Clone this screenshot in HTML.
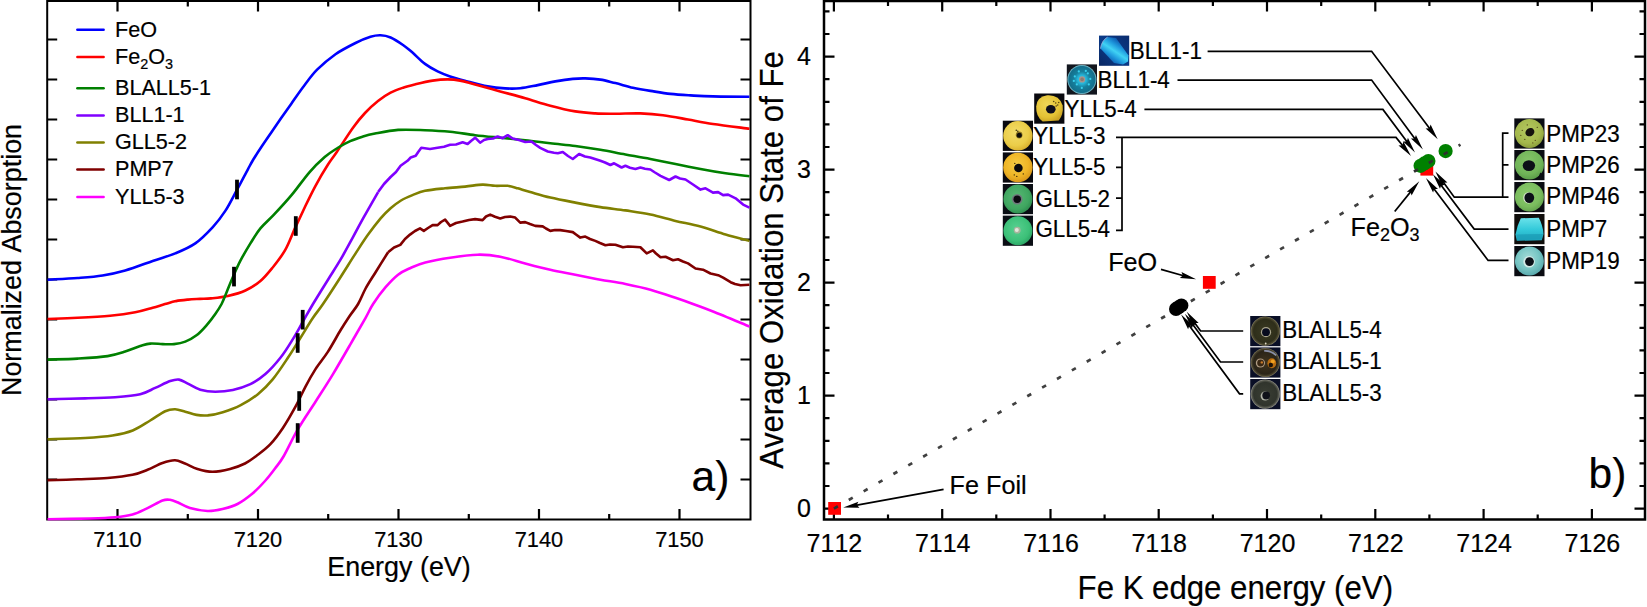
<!DOCTYPE html>
<html lang="en"><head><meta charset="utf-8"><title>Fe K-edge XANES and oxidation state</title>
<style>html,body{margin:0;padding:0;background:#fff;}body{width:1647px;height:607px;overflow:hidden;}svg{display:block;}text{font-family:"Liberation Sans",Arial,Helvetica,sans-serif;font-kerning:none;fill:#000;stroke:#000;stroke-width:0.2px;}</style>
</head><body>
<svg width="1647" height="607" viewBox="0 0 1647 607">
<rect width="1647" height="607" fill="#fff"/>
<defs><radialGradient id="gYL3" cx="0.42" cy="0.40" r="0.62"><stop offset="0" stop-color="#f2dc6a"/><stop offset="0.7" stop-color="#ebcd48"/><stop offset="1" stop-color="#d9b12e"/></radialGradient><radialGradient id="gYL4" cx="0.40" cy="0.35" r="0.70"><stop offset="0" stop-color="#f0d658"/><stop offset="0.7" stop-color="#e4c234"/><stop offset="1" stop-color="#c9a224"/></radialGradient><radialGradient id="gYL5" cx="0.45" cy="0.40" r="0.62"><stop offset="0" stop-color="#f6cc44"/><stop offset="0.65" stop-color="#efb526"/><stop offset="1" stop-color="#d8961a"/></radialGradient><radialGradient id="gGL2" cx="0.45" cy="0.42" r="0.62"><stop offset="0" stop-color="#58b874"/><stop offset="0.7" stop-color="#3fa660"/><stop offset="1" stop-color="#2c8a4c"/></radialGradient><radialGradient id="gGL4" cx="0.45" cy="0.42" r="0.62"><stop offset="0" stop-color="#58d090"/><stop offset="0.7" stop-color="#3cc078"/><stop offset="1" stop-color="#2aa262"/></radialGradient><radialGradient id="gBL4" cx="0.50" cy="0.50" r="0.50"><stop offset="0" stop-color="#38d4f0"/><stop offset="0.3" stop-color="#25b4d8"/><stop offset="0.55" stop-color="#167f9c"/><stop offset="0.9" stop-color="#136f8c"/><stop offset="1" stop-color="#8ed0dc"/></radialGradient><linearGradient id="gBL1" x1="0.75" y1="0.2" x2="0.3" y2="0.85"><stop offset="0" stop-color="#0f5fb4"/><stop offset="0.25" stop-color="#1f9ade"/><stop offset="0.5" stop-color="#40d2f4"/><stop offset="0.75" stop-color="#1f9ade"/><stop offset="1" stop-color="#0f5fb4"/></linearGradient><linearGradient id="gBL1bg" x1="0" y1="1" x2="1" y2="0"><stop offset="0" stop-color="#0a2762"/><stop offset="0.5" stop-color="#0b3a88"/><stop offset="1" stop-color="#0a2c6e"/></linearGradient><radialGradient id="gP23" cx="0.45" cy="0.40" r="0.62"><stop offset="0" stop-color="#b4c860"/><stop offset="0.7" stop-color="#a4b84c"/><stop offset="1" stop-color="#8a9c3a"/></radialGradient><radialGradient id="gP26" cx="0.45" cy="0.35" r="0.66"><stop offset="0" stop-color="#84c468"/><stop offset="0.7" stop-color="#70b458"/><stop offset="1" stop-color="#5a9c48"/></radialGradient><radialGradient id="gP46" cx="0.45" cy="0.40" r="0.62"><stop offset="0" stop-color="#8ccc6c"/><stop offset="0.7" stop-color="#7abc5e"/><stop offset="1" stop-color="#62a24c"/></radialGradient><radialGradient id="gP19" cx="0.45" cy="0.40" r="0.62"><stop offset="0" stop-color="#a4dcd8"/><stop offset="0.6" stop-color="#78c6c4"/><stop offset="1" stop-color="#58a8ac"/></radialGradient><linearGradient id="gP7" x1="0" y1="0" x2="0" y2="1"><stop offset="0" stop-color="#6ae2ea"/><stop offset="0.5" stop-color="#34cada"/><stop offset="1" stop-color="#1fa8c0"/></linearGradient><radialGradient id="gB54" cx="0.50" cy="0.50" r="0.50"><stop offset="0" stop-color="#3a3a22"/><stop offset="0.8" stop-color="#2e2e1a"/><stop offset="0.93" stop-color="#4e4a30"/><stop offset="1" stop-color="#8c8666"/></radialGradient><radialGradient id="gB51" cx="0.50" cy="0.50" r="0.50"><stop offset="0" stop-color="#40341e"/><stop offset="0.8" stop-color="#2a2418"/><stop offset="0.93" stop-color="#4c4630"/><stop offset="1" stop-color="#8a8264"/></radialGradient><radialGradient id="gB53" cx="0.50" cy="0.50" r="0.50"><stop offset="0" stop-color="#3a3e34"/><stop offset="0.8" stop-color="#30342c"/><stop offset="0.93" stop-color="#5a5c52"/><stop offset="1" stop-color="#9c9c90"/></radialGradient><clipPath id="clipDots">
<circle cx="834.6" cy="508.4" r="7.0"/>
<circle cx="1209.3" cy="282.4" r="7.0"/>
<circle cx="1424.4" cy="165.0" r="12.0"/>
<circle cx="1445.6" cy="151.1" r="8.0"/>
</clipPath></defs>
<g id="panelA">
<clipPath id="clipA"><rect x="47.2" y="0.0" width="703.3" height="520.7"/></clipPath>
<path d="M117.5 519.5v-10.5M117.5 1.0v10.5M187.8 519.5v-5.5M187.8 1.0v5.5M258.0 519.5v-10.5M258.0 1.0v10.5M328.2 519.5v-5.5M328.2 1.0v5.5M398.5 519.5v-10.5M398.5 1.0v10.5M468.8 519.5v-5.5M468.8 1.0v5.5M539.0 519.5v-10.5M539.0 1.0v10.5M609.2 519.5v-5.5M609.2 1.0v5.5M679.5 519.5v-10.5M679.5 1.0v10.5M47.2 39.5h10M750.5 39.5h-10M47.2 79.5h10M750.5 79.5h-10M47.2 119.5h10M750.5 119.5h-10M47.2 159.5h10M750.5 159.5h-10M47.2 199.5h10M750.5 199.5h-10M47.2 239.5h10M750.5 239.5h-10M47.2 279.5h10M750.5 279.5h-10M47.2 319.5h10M750.5 319.5h-10M47.2 359.5h10M750.5 359.5h-10M47.2 399.5h10M750.5 399.5h-10M47.2 439.5h10M750.5 439.5h-10M47.2 479.5h10M750.5 479.5h-10" stroke="#000" stroke-width="2.2" fill="none"/>
<rect x="47.2" y="1.0" width="703.3" height="518.5" stroke="#000" stroke-width="2" fill="none"/>
<g clip-path="url(#clipA)" fill="none" stroke-width="2.6" stroke-linejoin="round" stroke-linecap="butt">
<path d="M47.5 279.7C52.5 279.4 68.4 278.7 77.6 278.0C86.8 277.3 94.7 276.8 102.6 275.5C110.5 274.2 116.9 272.9 125.2 270.5C133.6 268.1 144.4 263.9 152.7 261.0C161.0 258.1 168.1 256.3 175.2 253.4C182.3 250.5 189.0 247.8 195.3 243.4C201.6 239.0 207.8 232.5 212.8 227.1C217.8 221.7 221.2 217.2 225.3 210.9C229.4 204.6 233.4 196.3 237.2 189.4C241.0 182.5 245.2 174.3 247.9 169.3C250.6 164.3 251.0 163.4 253.3 159.5C255.7 155.6 259.0 150.5 262.0 146.0C265.0 141.5 267.9 137.3 271.1 132.7C274.3 128.1 277.6 123.2 281.0 118.3C284.4 113.4 287.6 108.9 291.5 103.4C295.4 97.9 300.0 91.1 304.3 85.5C308.6 79.9 311.9 74.9 317.1 69.7C322.3 64.5 329.1 58.7 335.5 54.2C341.9 49.8 349.7 45.9 355.5 43.0C361.3 40.1 366.3 38.1 370.5 36.8C374.7 35.5 377.1 35.2 380.5 35.3C383.9 35.4 386.9 35.9 390.6 37.5C394.4 39.1 399.4 42.5 403.0 45.0C406.6 47.5 408.8 49.5 412.5 52.6C416.2 55.8 420.8 60.8 425.0 63.9C429.2 67.0 433.4 69.3 437.6 71.4C441.8 73.5 445.1 74.7 450.1 76.4C455.1 78.1 461.3 79.7 467.6 81.4C473.9 83.1 481.4 85.2 487.7 86.4C494.0 87.6 499.8 88.1 505.2 88.4C510.6 88.7 514.8 88.8 520.2 88.2C525.6 87.7 531.9 86.2 537.7 85.1C543.6 84.0 549.4 82.4 555.3 81.4C561.1 80.4 567.8 79.4 572.8 78.9C577.8 78.4 580.7 78.3 585.3 78.4C589.9 78.5 595.4 78.8 600.4 79.6C605.4 80.4 610.0 81.8 615.4 83.1C620.8 84.4 627.1 86.4 632.9 87.7C638.7 89.0 644.1 89.9 650.4 90.9C656.7 91.9 663.8 93.2 670.5 93.9C677.2 94.7 683.4 95.0 690.5 95.4C697.6 95.8 703.2 96.2 713.0 96.4C722.8 96.6 743.3 96.7 749.4 96.7" stroke="#0000ff"/>
<path d="M47.5 319.0C52.5 318.8 67.2 318.3 77.6 317.8C88.0 317.3 100.5 316.7 110.1 315.8C119.7 314.9 128.1 313.7 135.2 312.3C142.3 310.9 147.7 309.1 152.7 307.7C157.7 306.3 161.1 305.2 165.0 304.1C168.9 303.0 172.2 301.9 176.0 301.1C179.8 300.4 184.0 300.0 188.0 299.6C192.0 299.2 196.2 299.1 200.0 298.9C203.8 298.7 206.4 298.9 211.0 298.4C215.6 297.9 222.1 297.3 227.8 296.0C233.5 294.7 240.0 293.0 245.4 290.5C250.8 288.0 255.8 284.9 260.4 281.0C265.0 277.1 268.7 272.4 272.9 267.2C277.1 262.0 281.6 256.4 285.4 249.7C289.2 243.0 292.1 234.4 295.5 227.1C298.9 219.8 302.2 212.7 305.5 205.8C308.8 198.9 311.8 192.7 315.5 185.8C319.2 178.9 324.4 170.1 328.0 164.5C331.6 158.9 332.6 158.1 336.8 152.0C341.0 145.9 348.3 134.2 353.0 127.7C357.7 121.2 360.8 117.5 365.0 113.0C369.2 108.5 373.7 104.4 378.0 101.0C382.3 97.6 386.4 94.9 390.6 92.7C394.8 90.5 399.0 89.1 403.1 87.7C407.2 86.3 410.1 85.6 415.0 84.4C419.9 83.2 427.2 81.4 432.6 80.6C438.0 79.8 443.0 79.4 447.6 79.4C452.2 79.4 455.5 79.7 460.1 80.6C464.7 81.5 468.4 82.8 475.1 84.6C481.8 86.4 491.8 89.1 500.2 91.4C508.6 93.7 516.9 95.8 525.2 98.2C533.6 100.6 541.9 103.5 550.3 105.7C558.6 107.9 567.8 110.1 575.3 111.4C582.8 112.7 588.6 113.0 595.3 113.4C602.0 113.8 607.9 113.7 615.4 113.7C622.9 113.7 632.5 113.2 640.4 113.4C648.3 113.7 655.1 114.2 663.0 115.2C670.9 116.2 679.7 118.0 688.0 119.5C696.3 121.0 702.8 122.5 713.0 124.0C723.2 125.5 743.3 127.9 749.4 128.7" stroke="#ff0000"/>
<path d="M47.5 359.6C52.5 359.4 67.6 359.2 77.6 358.6C87.6 358.0 99.7 357.3 107.6 356.1C115.5 354.9 119.8 353.3 125.2 351.6C130.6 349.9 136.0 347.4 140.2 346.1C144.4 344.8 146.4 343.9 150.2 343.6C153.9 343.3 158.7 344.0 162.7 344.1C166.7 344.2 170.2 344.5 174.0 344.1C177.8 343.7 181.6 343.1 185.3 341.6C189.1 340.1 193.0 338.0 196.5 335.3C200.0 332.6 203.4 328.9 206.5 325.3C209.6 321.8 212.8 317.6 215.3 314.0C217.8 310.4 219.7 307.6 221.6 304.0C223.5 300.4 224.7 296.7 226.6 292.2C228.5 287.7 230.5 282.4 232.8 277.2C235.1 272.0 237.4 266.5 240.3 260.9C243.2 255.3 247.1 248.8 250.4 243.4C253.8 238.0 256.5 233.2 260.4 228.4C264.3 223.7 268.5 220.4 273.7 214.9C278.9 209.4 285.6 202.3 291.5 195.2C297.4 188.1 303.9 178.7 309.4 172.3C314.9 165.9 320.0 161.1 324.7 157.0C329.4 152.9 333.2 150.7 337.5 148.0C341.8 145.3 345.9 143.0 350.2 141.1C354.4 139.2 358.9 137.8 363.0 136.5C367.1 135.2 369.1 134.6 375.0 133.5C380.9 132.4 389.8 130.5 398.1 129.9C406.4 129.3 416.3 129.9 425.0 130.2C433.7 130.5 441.8 130.9 450.1 131.7C458.5 132.5 466.8 134.2 475.1 135.2C483.5 136.2 491.8 136.9 500.2 137.7C508.6 138.5 516.9 139.3 525.2 140.2C533.6 141.1 541.9 142.3 550.3 143.3C558.6 144.3 566.9 144.9 575.3 146.0C583.6 147.1 592.0 148.4 600.4 149.8C608.8 151.2 617.1 153.0 625.4 154.5C633.7 156.0 642.0 157.4 650.4 159.0C658.8 160.6 667.1 162.3 675.5 164.0C683.9 165.7 692.1 167.4 700.5 169.0C708.9 170.6 717.5 172.1 725.6 173.3C733.8 174.5 745.4 175.8 749.4 176.3" stroke="#008000"/>
<path d="M47.5 399.2C53.8 399.1 73.8 398.7 85.1 398.4C96.4 398.1 105.9 397.9 115.1 397.2C124.3 396.5 133.5 395.8 140.2 394.2C146.9 392.6 150.2 390.1 155.2 387.9C160.2 385.7 166.2 382.5 170.2 381.1C174.2 379.7 176.1 379.2 179.0 379.6C181.9 380.0 184.2 381.9 187.8 383.6C191.4 385.3 195.7 388.4 200.3 389.7C204.9 391.0 209.9 391.7 215.3 391.7C220.7 391.7 227.0 391.2 232.8 389.9C238.7 388.6 245.0 386.7 250.4 384.1C255.8 381.5 260.4 378.5 265.4 374.1C270.4 369.7 275.8 363.6 280.4 357.8C285.0 352.0 289.1 345.2 292.9 339.1C296.7 333.1 299.6 327.4 303.0 321.5C306.4 315.6 308.8 311.0 313.0 304.0C317.2 297.0 323.4 287.1 328.0 279.7C332.6 272.3 336.3 266.8 340.5 259.7C344.7 252.6 349.2 244.0 353.0 237.1C356.8 230.2 358.9 225.9 363.1 218.4C367.3 210.9 375.6 196.5 378.1 192.1" stroke="#8000ff"/>
<path d="M378.1 192.1L384.0 184.0L390.6 177.0L396.0 172.0L400.6 165.8L407.5 160.8L410.7 157.5L415.7 155.8L418.2 152.0L421.3 147.8L430.0 149.0L437.6 147.8L444.0 146.8L450.1 144.8L456.0 144.5L462.6 142.3L467.6 144.0L471.0 141.0L475.1 137.7L480.1 142.7L484.0 140.0L487.7 139.0L493.0 138.5L497.7 136.5L502.7 138.2L507.7 135.2L512.7 138.5L519.0 140.0L525.2 142.0L531.5 141.5L536.0 145.0L540.2 147.8L547.8 151.5L554.0 152.8L557.8 153.3L562.8 152.0L568.0 156.0L572.8 159.0L579.1 154.0L585.0 156.5L590.3 157.5L600.4 160.8L605.0 162.5L610.4 165.0L614.1 163.3L621.6 167.5L625.4 165.8L630.0 167.8L635.4 169.0L640.4 167.5L645.0 168.7L650.4 169.5L655.0 172.5L660.5 175.8L669.2 180.0L675.5 176.5L680.0 178.5L685.5 179.5L693.0 184.5L700.5 189.6L705.5 188.3L713.0 192.6L718.1 192.1L723.1 195.1L728.1 194.6L735.6 198.3L743.1 204.6L749.4 207.6" stroke="#8000ff"/>
<path d="M47.5 439.2C53.8 439.0 74.2 438.6 85.1 438.0C95.9 437.4 104.7 436.8 112.6 435.5C120.5 434.2 126.4 433.0 132.7 430.5C139.0 428.0 144.8 423.7 150.2 420.5C155.6 417.3 161.0 413.1 165.2 411.2C169.4 409.3 171.8 409.1 175.2 409.2C178.5 409.3 181.8 410.8 185.3 411.7C188.9 412.6 192.8 414.3 196.5 414.9C200.2 415.5 203.4 415.8 207.8 415.4C212.2 414.9 217.4 413.9 222.8 412.2C228.2 410.5 234.5 408.4 240.3 405.4C246.2 402.4 252.5 398.6 257.9 394.2C263.3 389.8 267.9 385.2 272.9 379.1C277.9 373.0 283.3 364.7 287.9 357.8C292.5 350.9 296.3 344.5 300.5 337.8C304.7 331.1 309.2 323.4 313.0 317.8C316.8 312.2 318.4 310.8 323.0 304.0C327.6 297.2 335.1 285.6 340.5 277.2C345.9 268.8 351.0 260.5 355.6 253.4C360.2 246.3 363.9 240.4 368.1 234.6C372.3 228.8 376.9 222.8 380.6 218.4C384.4 214.0 387.2 211.3 390.6 208.3C394.0 205.3 397.4 202.7 401.0 200.5C404.6 198.3 408.5 196.7 412.5 195.1C416.5 193.5 419.6 191.9 425.0 190.8C430.4 189.7 438.4 189.0 445.1 188.3C451.8 187.6 458.9 187.2 465.1 186.6C471.4 186.0 477.6 184.7 482.6 184.6C487.6 184.5 491.0 185.6 495.2 185.8C499.4 186.0 503.9 185.4 507.7 185.8C511.4 186.2 514.0 187.2 517.7 188.3C521.5 189.4 524.8 190.6 530.2 192.1C535.6 193.6 542.8 195.8 550.3 197.6C557.8 199.3 566.9 201.0 575.3 202.6C583.6 204.2 592.0 205.8 600.4 207.1C608.8 208.4 617.1 209.2 625.4 210.4C633.7 211.7 642.0 212.8 650.4 214.6C658.8 216.3 667.1 218.9 675.5 220.9C683.9 222.9 692.1 224.3 700.5 226.6C708.9 228.9 717.5 232.2 725.6 234.6C733.8 237.0 745.4 239.8 749.4 240.9" stroke="#808000"/>
<path d="M47.5 480.3C52.5 480.1 67.5 479.7 77.5 479.3C87.5 478.9 98.3 478.8 107.5 478.0C116.7 477.2 125.8 476.2 132.5 474.8C139.2 473.4 142.5 471.8 147.5 469.8C152.5 467.8 157.9 464.6 162.5 463.0C167.1 461.4 171.2 460.2 175.0 460.3C178.8 460.4 181.2 462.1 185.0 463.5C188.8 464.9 192.9 467.6 197.5 469.0C202.1 470.4 207.1 471.8 212.5 471.8C217.9 471.8 224.6 470.4 230.0 469.0C235.4 467.6 240.6 465.7 245.0 463.5C249.4 461.3 252.1 459.2 256.3 456.0C260.5 452.8 266.0 448.9 270.4 444.2C274.8 439.5 278.7 434.2 282.9 428.0C287.1 421.8 291.7 413.6 295.5 406.7C299.3 399.8 302.2 392.9 305.5 386.6C308.8 380.3 311.8 374.9 315.5 369.1C319.2 363.3 323.8 358.1 328.0 351.6C332.2 345.1 336.9 336.2 340.5 330.3C344.1 324.4 346.4 320.9 349.3 316.5C352.2 312.1 355.4 308.7 358.1 304.0C360.8 299.3 362.7 293.8 365.6 288.5C368.5 283.2 371.9 278.2 375.6 272.2C379.4 266.1 386.0 255.5 388.1 252.2" stroke="#800000"/>
<path d="M388.1 252.2L394.0 247.5L400.3 244.9L405.0 239.0L410.0 234.6L415.0 231.0L420.0 228.4L423.8 230.9L428.0 228.0L432.6 225.1L437.6 225.1L441.0 222.0L445.1 219.6L450.1 225.9L456.0 223.0L462.6 221.6L469.0 220.0L475.1 219.1L482.6 220.1L486.0 216.5L490.2 214.6L495.0 216.8L500.2 218.4L505.0 217.0L510.2 216.6L515.2 217.6L520.2 222.6L525.2 222.1L530.0 224.0L535.2 225.9L542.7 226.4L546.0 228.5L550.3 230.9L555.0 230.0L560.3 230.1L566.0 231.0L572.8 232.1L576.0 234.5L580.3 237.6L585.3 236.6L590.0 239.0L595.3 240.9L600.0 243.0L605.4 245.2L610.0 244.5L615.4 244.7L622.9 247.2L628.0 246.5L632.9 246.7L640.4 247.2L646.7 253.4L652.9 250.4L656.0 253.5L660.5 257.2L665.5 256.7L673.0 260.2L678.0 259.2L683.0 261.5L688.0 263.4L695.5 268.5L703.0 269.7L710.5 273.5L718.1 275.2L723.1 277.7L730.6 282.2L735.0 284.0L740.6 285.2L749.4 284.7" stroke="#800000"/>
<path d="M47.5 519.3C54.6 519.2 78.8 518.8 90.0 518.5C101.2 518.2 107.9 518.0 115.0 517.3C122.1 516.6 127.1 516.0 132.5 514.5C137.9 513.0 142.5 510.4 147.5 508.1C152.5 505.8 158.8 501.9 162.5 500.5C166.2 499.1 167.5 499.5 170.0 499.8C172.5 500.1 174.2 500.9 177.5 502.3C180.8 503.7 185.0 506.6 190.0 508.0C195.0 509.4 202.1 510.8 207.5 511.0C212.9 511.2 217.5 510.2 222.5 509.0C227.5 507.8 232.5 506.6 237.5 504.0C242.5 501.4 247.9 497.3 252.5 493.5C257.1 489.7 261.2 485.2 265.0 481.0C268.8 476.8 271.9 472.7 275.0 468.5C278.1 464.3 280.0 462.6 283.8 456.0C287.6 449.4 292.6 438.2 297.9 429.2C303.2 420.1 309.6 410.9 315.5 401.7C321.4 392.5 327.2 383.7 333.0 374.1C338.8 364.5 345.1 353.5 350.5 344.1C355.9 334.7 361.8 324.5 365.6 317.8C369.4 311.1 369.8 309.1 373.1 304.0C376.4 298.9 381.4 292.1 385.6 287.2C389.8 282.3 394.0 277.9 398.1 274.7C402.2 271.5 405.5 270.2 410.0 268.2C414.5 266.2 418.6 264.2 425.3 262.5C432.0 260.8 441.4 259.0 450.1 257.7C458.8 256.4 469.2 254.9 477.6 254.7C486.0 254.5 492.3 255.2 500.2 256.7C508.1 258.1 516.9 261.2 525.2 263.4C533.6 265.6 541.9 267.8 550.3 269.7C558.6 271.6 566.9 273.0 575.3 274.7C583.6 276.4 592.0 278.1 600.4 279.7C608.8 281.2 617.1 282.3 625.4 284.0C633.7 285.7 642.0 287.4 650.4 289.7C658.8 292.0 668.4 295.4 675.5 297.8C682.6 300.2 686.8 301.7 693.0 304.0C699.2 306.3 703.6 307.8 713.0 311.5C722.4 315.2 743.3 324.0 749.4 326.5" stroke="#ff00ff"/>
</g>
<text transform="translate(117.5 547.0) scale(1 1.050)" font-size="21.8" text-anchor="middle">7110</text>
<text transform="translate(258.0 547.0) scale(1 1.050)" font-size="21.8" text-anchor="middle">7120</text>
<text transform="translate(398.5 547.0) scale(1 1.050)" font-size="21.8" text-anchor="middle">7130</text>
<text transform="translate(539.0 547.0) scale(1 1.050)" font-size="21.8" text-anchor="middle">7140</text>
<text transform="translate(679.5 547.0) scale(1 1.050)" font-size="21.8" text-anchor="middle">7150</text>
<text transform="translate(399.0 575.7) scale(1 1.050)" font-size="26.9" text-anchor="middle">Energy (eV)</text>
<text transform="translate(20.8 260.0) rotate(-90) scale(1 1.050)" font-size="26.9" text-anchor="middle">Normalized Absorption</text>
<text transform="translate(691.6 490.6) scale(1 0.990)" font-size="42.5">a)</text>
<path d="M77.4 29.8H103.6" stroke="#0000ff" stroke-width="2.6" stroke-linecap="round" fill="none"/>
<text transform="translate(115.0 36.7) scale(1 1.050)" font-size="21.6">FeO</text>
<path d="M77.4 57.0H103.6" stroke="#ff0000" stroke-width="2.6" stroke-linecap="round" fill="none"/>
<text transform="translate(115.0 63.9) scale(1 1.050)" font-size="21.6">Fe<tspan font-size="14.4" dy="4.8">2</tspan><tspan dy="-4.8">O</tspan><tspan font-size="14.4" dy="4.8">3</tspan></text>
<path d="M77.4 88.3H103.6" stroke="#008000" stroke-width="2.6" stroke-linecap="round" fill="none"/>
<text transform="translate(115.0 95.2) scale(1 1.050)" font-size="21.6">BLALL5-1</text>
<path d="M77.4 115.5H103.6" stroke="#8000ff" stroke-width="2.6" stroke-linecap="round" fill="none"/>
<text transform="translate(115.0 122.4) scale(1 1.050)" font-size="21.6">BLL1-1</text>
<path d="M77.4 142.5H103.6" stroke="#808000" stroke-width="2.6" stroke-linecap="round" fill="none"/>
<text transform="translate(115.0 149.4) scale(1 1.050)" font-size="21.6">GLL5-2</text>
<path d="M77.4 169.5H103.6" stroke="#800000" stroke-width="2.6" stroke-linecap="round" fill="none"/>
<text transform="translate(115.0 176.4) scale(1 1.050)" font-size="21.6">PMP7</text>
<path d="M77.4 197.0H103.6" stroke="#ff00ff" stroke-width="2.6" stroke-linecap="round" fill="none"/>
<text transform="translate(115.0 203.9) scale(1 1.050)" font-size="21.6">YLL5-3</text>
<rect x="235.1" y="179.7" width="3.8" height="19.6" fill="#000"/>
<rect x="293.9" y="216.2" width="3.8" height="19.6" fill="#000"/>
<rect x="232.1" y="266.8" width="3.8" height="19.6" fill="#000"/>
<rect x="300.8" y="309.9" width="3.8" height="19.6" fill="#000"/>
<rect x="295.8" y="333.2" width="3.8" height="19.6" fill="#000"/>
<rect x="297.3" y="391.2" width="3.8" height="19.6" fill="#000"/>
<rect x="295.8" y="423.2" width="3.8" height="19.6" fill="#000"/>
</g>
<g id="panelB">
<path d="M833.9 508.6L1460.5 144.6" stroke="#404040" stroke-width="2.7" stroke-dasharray="4.6 12.6" stroke-dashoffset="0" fill="none"/>
<g stroke="#000" stroke-width="2.5" fill="none">
<rect x="824.0" y="1.0" width="821.0" height="518.5"/>
</g>
<g stroke="#000" stroke-width="2.2" fill="none">
<path d="M833.9 519.5v-10.5M833.9 1.0v10.5M888.0 519.5v-5.0M888.0 1.0v5.0M942.2 519.5v-10.5M942.2 1.0v10.5M996.3 519.5v-5.0M996.3 1.0v5.0M1050.5 519.5v-10.5M1050.5 1.0v10.5M1104.6 519.5v-5.0M1104.6 1.0v5.0M1158.7 519.5v-10.5M1158.7 1.0v10.5M1212.9 519.5v-5.0M1212.9 1.0v5.0M1267.0 519.5v-10.5M1267.0 1.0v10.5M1321.2 519.5v-5.0M1321.2 1.0v5.0M1375.3 519.5v-10.5M1375.3 1.0v10.5M1429.4 519.5v-5.0M1429.4 1.0v5.0M1483.6 519.5v-10.5M1483.6 1.0v10.5M1537.7 519.5v-5.0M1537.7 1.0v5.0M1591.9 519.5v-10.5M1591.9 1.0v10.5M824.0 508.6h10.5M1645.0 508.6h-10.5M824.0 486.0h5.5M1645.0 486.0h-5.5M824.0 463.4h5.5M1645.0 463.4h-5.5M824.0 440.8h5.5M1645.0 440.8h-5.5M824.0 418.2h5.5M1645.0 418.2h-5.5M824.0 395.6h10.5M1645.0 395.6h-10.5M824.0 373.0h5.5M1645.0 373.0h-5.5M824.0 350.4h5.5M1645.0 350.4h-5.5M824.0 327.8h5.5M1645.0 327.8h-5.5M824.0 305.2h5.5M1645.0 305.2h-5.5M824.0 282.6h10.5M1645.0 282.6h-10.5M824.0 260.0h5.5M1645.0 260.0h-5.5M824.0 237.4h5.5M1645.0 237.4h-5.5M824.0 214.8h5.5M1645.0 214.8h-5.5M824.0 192.2h5.5M1645.0 192.2h-5.5M824.0 169.6h10.5M1645.0 169.6h-10.5M824.0 147.0h5.5M1645.0 147.0h-5.5M824.0 124.4h5.5M1645.0 124.4h-5.5M824.0 101.8h5.5M1645.0 101.8h-5.5M824.0 79.2h5.5M1645.0 79.2h-5.5M824.0 56.6h10.5M1645.0 56.6h-10.5M824.0 34.0h5.5M1645.0 34.0h-5.5M824.0 11.4h5.5M1645.0 11.4h-5.5"/>
</g>
<text transform="translate(834.4 551.9) scale(1 1.050)" font-size="25.0" text-anchor="middle">7112</text>
<text transform="translate(942.7 551.9) scale(1 1.050)" font-size="25.0" text-anchor="middle">7114</text>
<text transform="translate(1051.0 551.9) scale(1 1.050)" font-size="25.0" text-anchor="middle">7116</text>
<text transform="translate(1159.2 551.9) scale(1 1.050)" font-size="25.0" text-anchor="middle">7118</text>
<text transform="translate(1267.5 551.9) scale(1 1.050)" font-size="25.0" text-anchor="middle">7120</text>
<text transform="translate(1375.8 551.9) scale(1 1.050)" font-size="25.0" text-anchor="middle">7122</text>
<text transform="translate(1484.1 551.9) scale(1 1.050)" font-size="25.0" text-anchor="middle">7124</text>
<text transform="translate(1592.4 551.9) scale(1 1.050)" font-size="25.0" text-anchor="middle">7126</text>
<text transform="translate(804.0 517.2) scale(1 1.050)" font-size="25.0" text-anchor="middle">0</text>
<text transform="translate(804.0 404.2) scale(1 1.050)" font-size="25.0" text-anchor="middle">1</text>
<text transform="translate(804.0 291.2) scale(1 1.050)" font-size="25.0" text-anchor="middle">2</text>
<text transform="translate(804.0 178.2) scale(1 1.050)" font-size="25.0" text-anchor="middle">3</text>
<text transform="translate(804.0 65.2) scale(1 1.050)" font-size="25.0" text-anchor="middle">4</text>
<text transform="translate(1235.3 599.0) scale(1 1.050)" font-size="31.2" text-anchor="middle">Fe K edge energy (eV)</text>
<text transform="translate(782.8 260.0) rotate(-90) scale(1 1.050)" font-size="31.2" text-anchor="middle">Average Oxidation State of Fe</text>
<text transform="translate(1588.6 488.4) scale(1 0.990)" font-size="42.5">b)</text>
<rect x="828.2" y="502.0" width="12.8" height="12.8" fill="#ff0000"/>
<rect x="1202.9" y="276.0" width="12.8" height="12.8" fill="#ff0000"/>
<rect x="1420.4" y="162.8" width="12.8" height="12.8" fill="#ff0000"/>
<path d="M833.9 508.6L1460.5 144.6" stroke="#404040" stroke-width="2.7" stroke-dasharray="4.6 12.6" stroke-dashoffset="0" fill="none" opacity="0"/>
<circle cx="1420.6" cy="165.8" r="7.1" fill="#008000"/>
<circle cx="1424.4" cy="163.4" r="7.1" fill="#008000"/>
<circle cx="1428.4" cy="161.0" r="7.1" fill="#008000"/>
<circle cx="1445.6" cy="151.1" r="7.1" fill="#008000"/>
<circle cx="1176.0" cy="309.0" r="7.0" fill="#000"/>
<circle cx="1178.6" cy="307.2" r="7.0" fill="#000"/>
<circle cx="1181.4" cy="305.4" r="7.0" fill="#000"/>
<path d="M833.9 508.6L1460.5 144.6" stroke="#303030" stroke-width="2.7" stroke-dasharray="4.6 12.6" stroke-dashoffset="0" fill="none" clip-path="url(#clipDots)"/>
<g transform="translate(1099.0 35.6)"><rect width="30.2" height="30.2" fill="url(#gBL1bg)"/><path d="M1.5 13 Q2.5 5 8.5 1.5 L17 2.5 L29.5 20 L29 26 L24 28.8 L15 27.5 Z" fill="url(#gBL1)"/><path d="M1.5 13 Q2.5 5 8.5 1.5" fill="none" stroke="#9aa8d8" stroke-width="0.8"/></g>
<text transform="translate(1129.7 59.2) scale(1 1.050)" font-size="22.4">BLL1-1</text>
<g transform="translate(1066.8 64.4)"><rect width="30.2" height="30.2" fill="#12161e"/><circle cx="15.1" cy="15.1" r="14.5" fill="url(#gBL4)" /><circle cx="8.0" cy="12.0" r="1.1" fill="#38d0ee"/><circle cx="10.0" cy="20.0" r="1.1" fill="#38d0ee"/><circle cx="21.0" cy="9.0" r="1.1" fill="#38d0ee"/><circle cx="22.0" cy="20.0" r="1.1" fill="#38d0ee"/><circle cx="15.0" cy="23.5" r="1.1" fill="#38d0ee"/><circle cx="19.0" cy="6.5" r="1.1" fill="#38d0ee"/><circle cx="7.0" cy="16.5" r="1.1" fill="#38d0ee"/><circle cx="12.0" cy="7.0" r="1.1" fill="#38d0ee"/><circle cx="23.5" cy="14.5" r="1.1" fill="#38d0ee"/><circle cx="15.3" cy="15.0" r="3.1" fill="#a8948c" /><circle cx="15.3" cy="15.0" r="1.8" fill="#8c7a74" /></g>
<text transform="translate(1097.6 87.7) scale(1 1.050)" font-size="22.4">BLL1-4</text>
<g transform="translate(1034.2 93.5)"><rect width="30.2" height="30.2" fill="#09090f"/><path d="M2 13 Q2.5 3.5 13 1.8 Q25 1 28.5 12 Q29.5 21 24.5 27 L8.5 28 Q1.5 23 2 13Z" fill="url(#gYL4)"/><ellipse cx="16.6" cy="15.8" rx="4.8" ry="4.2" fill="#0e0e1c"/><circle cx="21.5" cy="9.5" r="0.8" fill="#5a4a14"/><circle cx="23.5" cy="11.5" r="0.8" fill="#5a4a14"/><circle cx="22.0" cy="12.5" r="0.8" fill="#5a4a14"/><circle cx="24.5" cy="9.0" r="0.8" fill="#5a4a14"/><circle cx="19.5" cy="8.0" r="0.8" fill="#5a4a14"/></g>
<text transform="translate(1064.5 116.9) scale(1 1.050)" font-size="22.4">YLL5-4</text>
<g transform="translate(1002.8 120.7)"><rect width="30.2" height="30.2" fill="#09090f"/><circle cx="15.1" cy="15.1" r="14.7" fill="url(#gYL3)" /><circle cx="16.3" cy="14.3" r="3.4" fill="#8a7420" /><circle cx="16.5" cy="14.5" r="2.5" fill="#0e0c0a" /><circle cx="13.5" cy="9.5" r="0.8" fill="#3a3010"/><circle cx="15.0" cy="10.5" r="0.8" fill="#3a3010"/></g>
<text transform="translate(1033.3 144.1) scale(1 1.050)" font-size="22.4">YLL5-3</text>
<g transform="translate(1002.8 152.4)"><rect width="30.2" height="30.2" fill="#09090f"/><circle cx="15.1" cy="15.1" r="14.7" fill="url(#gYL5)" /><circle cx="15.6" cy="15.6" r="4.3" fill="#0c0a0c" /><circle cx="11.5" cy="22.5" r="0.7" fill="#3a2808"/><circle cx="14.0" cy="24.0" r="0.7" fill="#3a2808"/><circle cx="20.5" cy="21.5" r="0.7" fill="#3a2808"/><circle cx="12.0" cy="11.0" r="0.7" fill="#3a2808"/></g>
<text transform="translate(1033.3 175.3) scale(1 1.050)" font-size="22.4">YLL5-5</text>
<g transform="translate(1002.8 184.0)"><rect width="30.2" height="30.2" fill="#0a0e14"/><circle cx="15.1" cy="15.1" r="14.5" fill="url(#gGL2)" /><circle cx="14.4" cy="15.2" r="5.3" fill="#70767c" /><circle cx="14.4" cy="15.2" r="3.7" fill="#0a0a10" /></g>
<text transform="translate(1035.4 206.5) scale(1 1.050)" font-size="22.4">GLL5-2</text>
<g transform="translate(1002.8 215.6)"><rect width="30.2" height="30.2" fill="#0a0e14"/><circle cx="15.1" cy="15.1" r="14.5" fill="url(#gGL4)" /><circle cx="14.4" cy="14.6" r="3.4" fill="#a8b49c" /><circle cx="14.0" cy="14.4" r="2.0" fill="#e4e6dc" /></g>
<text transform="translate(1035.4 237.2) scale(1 1.050)" font-size="22.4">GLL5-4</text>
<g transform="translate(1514.3 118.4)"><rect width="30.2" height="30.2" fill="#0a0c12"/><circle cx="15.1" cy="15.1" r="14.5" fill="url(#gP23)" /><ellipse cx="15.6" cy="13.8" rx="4.6" ry="4.0" fill="#16120e" transform="rotate(-30 15.6 13.8)"/><circle cx="8.0" cy="12.0" r="0.7" fill="#5c5420"/><circle cx="10.5" cy="21.0" r="0.7" fill="#5c5420"/><circle cx="21.0" cy="22.0" r="0.7" fill="#5c5420"/><circle cx="23.0" cy="9.0" r="0.7" fill="#5c5420"/><circle cx="13.0" cy="6.5" r="0.7" fill="#5c5420"/><circle cx="6.5" cy="17.0" r="0.7" fill="#5c5420"/><circle cx="18.5" cy="24.5" r="0.7" fill="#5c5420"/></g>
<text transform="translate(1546.2 142.0) scale(1 1.050)" font-size="22.4">PMP23</text>
<g transform="translate(1514.3 150.0)"><rect width="30.2" height="30.2" fill="#0a0c12"/><circle cx="15.1" cy="15.1" r="14.5" fill="url(#gP26)" /><ellipse cx="14.6" cy="15.6" rx="6.2" ry="5.4" fill="#0c1018"/><path d="M26 22.5 L29.5 26 L24 27.5Z" fill="#0a0c12"/></g>
<text transform="translate(1546.2 173.3) scale(1 1.050)" font-size="22.4">PMP26</text>
<g transform="translate(1514.3 182.0)"><rect width="30.2" height="30.2" fill="#0a0c12"/><circle cx="15.1" cy="15.1" r="14.5" fill="url(#gP46)" /><ellipse cx="14.2" cy="15.8" rx="5.2" ry="5.6" fill="#dce8d4"/><ellipse cx="15.0" cy="15.8" rx="4.9" ry="5.2" fill="#0c1018"/></g>
<text transform="translate(1546.2 204.3) scale(1 1.050)" font-size="22.4">PMP46</text>
<g transform="translate(1514.3 214.0)"><rect width="30.2" height="30.2" fill="#100e0c"/><path d="M6.5 4.2 L24.5 3.8 Q28.5 11 29.2 20 L27.5 26.2 L2.5 26.8 L1.2 20.5 Q3 11 6.5 4.2Z" fill="url(#gP7)"/><path d="M2 20.5 L28.6 20 L27.4 25.6 L3 26.2Z" fill="#1a9ab4" opacity="0.7"/></g>
<text transform="translate(1546.2 237.0) scale(1 1.050)" font-size="22.4">PMP7</text>
<g transform="translate(1514.3 246.0)"><rect width="30.2" height="30.2" fill="#0a0c12"/><circle cx="15.1" cy="15.1" r="14.5" fill="url(#gP19)" /><circle cx="14.8" cy="15.8" r="5.8" fill="#d4ece8" /><circle cx="15.2" cy="15.6" r="4.4" fill="#0c1018" /></g>
<text transform="translate(1546.2 268.7) scale(1 1.050)" font-size="22.4">PMP19</text>
<g transform="translate(1250.2 316.0)"><rect width="30.2" height="30.2" fill="#0a0f26"/><circle cx="15.1" cy="15.1" r="14.6" fill="url(#gB54)" /><circle cx="15.8" cy="16.2" r="5.1" fill="#aaa68e" /><circle cx="15.8" cy="16.2" r="3.9" fill="#080c1e" /><circle cx="15.5" cy="27.5" r="0.9" fill="#e0dcc8"/></g>
<text transform="translate(1282.2 337.9) scale(1 1.050)" font-size="22.4">BLALL5-4</text>
<g transform="translate(1250.2 347.4)"><rect width="30.2" height="30.2" fill="#0a0f26"/><circle cx="15.1" cy="15.1" r="14.6" fill="url(#gB51)" /><ellipse cx="21.6" cy="15.8" rx="4.4" ry="5.0" fill="#b86c10"/><circle cx="22.6" cy="14.2" r="2.0" fill="#f0a020" /><circle cx="20.6" cy="17.6" r="2.2" fill="#1c1208" /><circle cx="10.2" cy="15.6" r="4.6" fill="#b09c84" /><circle cx="10.4" cy="15.6" r="3.4" fill="#3a2814" /><circle cx="11.6" cy="15.0" r="1.2" fill="#c87a2a" /><path d="M14 3.5 Q21 3 26 8" stroke="#8a90a8" stroke-width="1.6" fill="none"/></g>
<text transform="translate(1282.2 369.1) scale(1 1.050)" font-size="22.4">BLALL5-1</text>
<g transform="translate(1250.2 379.0)"><rect width="30.2" height="30.2" fill="#0a0f26"/><circle cx="15.1" cy="15.1" r="14.6" fill="url(#gB53)" /><circle cx="15.0" cy="17.0" r="4.6" fill="#b4b6aa" /><circle cx="16.0" cy="16.5" r="3.9" fill="#10121a" /></g>
<text transform="translate(1282.2 400.7) scale(1 1.050)" font-size="22.4">BLALL5-3</text>
<text transform="translate(1108.2 270.7) scale(1 1.050)" font-size="25.2">FeO</text>
<text transform="translate(949.6 494.0) scale(1 1.050)" font-size="25.2">Fe Foil</text>
<text transform="translate(1350.6 235.7) scale(1 1.050)" font-size="25.2">Fe<tspan font-size="18" dy="5.4">2</tspan><tspan dy="-5.4">O</tspan><tspan font-size="18" dy="5.4">3</tspan></text>
<path d="M1207.6 51.3L1371.6 51.3L1431.0 130.3" fill="none" stroke="#000" stroke-width="1.70" stroke-linejoin="miter"/><path d="M1437.7 139.3 L1425.6 128.4 L1429.4 128.3 L1430.6 124.6 Z" fill="#000"/>
<path d="M1177.5 80.1L1371.6 80.1L1416.2 140.6" fill="none" stroke="#000" stroke-width="1.70" stroke-linejoin="miter"/><path d="M1422.9 149.6 L1410.9 138.6 L1414.7 138.5 L1415.9 134.9 Z" fill="#000"/>
<path d="M1144.4 109.4L1382.9 109.4L1408.3 143.5" fill="none" stroke="#000" stroke-width="1.70" stroke-linejoin="miter"/><path d="M1415.0 152.5 L1403.0 141.5 L1406.8 141.5 L1407.9 137.8 Z" fill="#000"/>
<path d="M1116.0 137.4L1396.0 137.4L1404.0 147.3" fill="none" stroke="#000" stroke-width="1.70" stroke-linejoin="miter"/><path d="M1411.0 156.0 L1398.5 145.5 L1402.4 145.3 L1403.4 141.6 Z" fill="#000"/>
<path d="M1122 137.4V230.3H1116M1116 167.4H1122M1116 198.1H1122" fill="none" stroke="#000" stroke-width="1.7"/>
<path d="M1508.5 133.2H1502.7V197.2M1502.7 164.8H1508.5" fill="none" stroke="#000" stroke-width="1.7"/>
<path d="M1508.5 197.2L1454.3 197.2L1442.1 180.6" fill="none" stroke="#000" stroke-width="1.70" stroke-linejoin="miter"/><path d="M1435.4 171.6 L1447.4 182.6 L1443.6 182.7 L1442.4 186.3 Z" fill="#000"/>
<path d="M1508.5 229.1L1474.2 229.1L1439.6 183.2" fill="none" stroke="#000" stroke-width="1.70" stroke-linejoin="miter"/><path d="M1432.9 174.2 L1445.0 185.1 L1441.2 185.2 L1440.0 188.8 Z" fill="#000"/>
<path d="M1508.5 260.4L1488.1 260.4L1432.6 186.9" fill="none" stroke="#000" stroke-width="1.70" stroke-linejoin="miter"/><path d="M1425.9 178.0 L1438.0 188.9 L1434.2 189.0 L1433.1 192.6 Z" fill="#000"/>
<path d="M1394.7 211.5L1412.2 189.9" fill="none" stroke="#000" stroke-width="1.70" stroke-linejoin="miter"/><path d="M1419.3 181.2 L1411.6 195.6 L1410.6 191.9 L1406.8 191.7 Z" fill="#000"/>
<path d="M1161.0 269.4L1185.3 276.2" fill="none" stroke="#000" stroke-width="1.70" stroke-linejoin="miter"/><path d="M1196.1 279.2 L1179.9 277.9 L1182.8 275.5 L1181.5 271.9 Z" fill="#000"/>
<path d="M943.6 489.3L854.2 505.6" fill="none" stroke="#000" stroke-width="1.70" stroke-linejoin="miter"/><path d="M843.2 507.6 L858.4 501.7 L856.7 505.1 L859.5 507.8 Z" fill="#000"/>
<path d="M1243.2 331.0L1200.6 331.0L1193.3 320.9" fill="none" stroke="#000" stroke-width="1.70" stroke-linejoin="miter"/><path d="M1186.8 311.8 L1198.7 323.0 L1194.8 323.0 L1193.6 326.6 Z" fill="#000"/>
<path d="M1243.2 362.0L1220.5 362.0L1191.5 322.7" fill="none" stroke="#000" stroke-width="1.70" stroke-linejoin="miter"/><path d="M1184.9 313.7 L1196.9 324.7 L1193.1 324.8 L1191.9 328.4 Z" fill="#000"/>
<path d="M1243.2 393.8L1239.5 393.8L1187.7 323.6" fill="none" stroke="#000" stroke-width="1.70" stroke-linejoin="miter"/><path d="M1181.1 314.6 L1193.1 325.6 L1189.3 325.7 L1188.1 329.3 Z" fill="#000"/>
</g>
</svg></body></html>
